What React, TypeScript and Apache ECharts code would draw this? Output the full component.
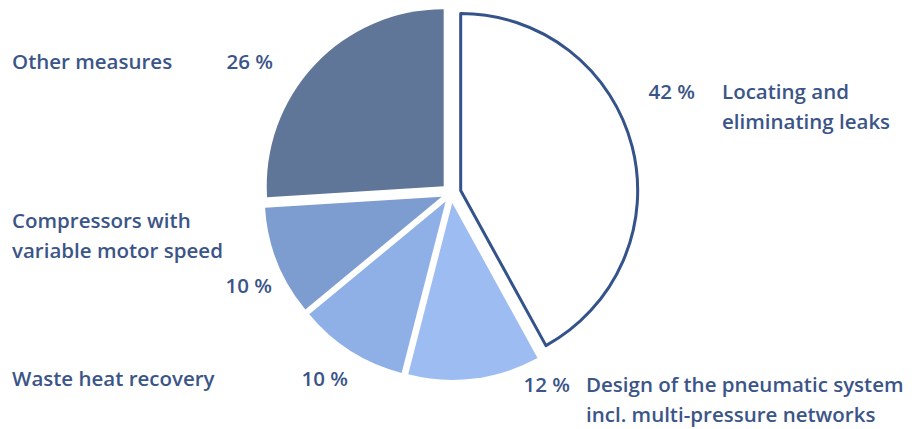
import React, { useEffect, useRef } from "react";
import * as echarts from "echarts";

const names = [
  "Locating and\neliminating leaks",
  "Design of the pneumatic system\nincl. multi-pressure networks",
  "Waste heat recovery",
  "Compressors with\nvariable motor speed",
  "Other measures",
];
const values = [42, 12, 10, 10, 26];
const colors = ["#ffffff", "#9dbdf2", "#8fb0e6", "#7d9cd0", "#5f7699"];

// label anchor positions [nameX, nameY, pctX, pctY]
const labelPos = [
  [722, 91, 695, 91],
  [586, 384, 570, 384],
  [12, 378, 348, 378],
  [12, 220, 272, 285],
  [12, 61, 273, 61],
];

const TEXT = "#3b5588";
const FONT = "'Open Sans', 'Noto Sans', sans-serif";
const FS = 20.5;

export default function App() {
  const ref = useRef<HTMLDivElement>(null);
  useEffect(() => {
    const chart = echarts.init(ref.current!, null, { renderer: "svg" });
    const data = values.map((v, i) => {
      const style =
        i === 0
          ? { color: "#ffffff", borderColor: "#34538a", borderWidth: 3 }
          : { color: colors[i], borderWidth: 0 };
      return {
        value: v,
        name: names[i],
        selected: true,
        itemStyle: style,
        select: { itemStyle: style },
        emphasis: { disabled: true },
      };
    });
    const graphics: any[] = [];
    names.forEach((n, i) => {
      const [nx, ny, px, py] = labelPos[i];
      n.split("\n").forEach((line, k) => {
        graphics.push({
          type: "text",
          x: nx,
          y: ny + k * 30,
          style: {
            text: line,
            fill: TEXT,
            font: `600 ${FS}px ${FONT}`,
            textAlign: "left",
            textVerticalAlign: "middle",
          },
        });
      });
      graphics.push({
        type: "text",
        x: px,
        y: py,
        style: {
          text: `${values[i]} %`,
          fill: TEXT,
          font: `600 ${FS}px ${FONT}`,
          textAlign: "right",
          textVerticalAlign: "middle",
        },
      });
    });
    chart.setOption({
      animation: false,
      backgroundColor: "#ffffff",
      series: [
        {
          type: "pie",
          center: [451, 193],
          radius: [0, 177],
          startAngle: 90,
          clockwise: true,
          selectedMode: "multiple",
          selectedOffset: 10,
          label: { show: false },
          labelLine: { show: false },
          data,
        },
      ],
      graphic: graphics,
    });
    return () => chart.dispose();
  }, []);
  return (
    <div
      ref={ref}
      style={{ position: "fixed", left: 0, top: 0, width: 912, height: 429 }}
    />
  );
}
